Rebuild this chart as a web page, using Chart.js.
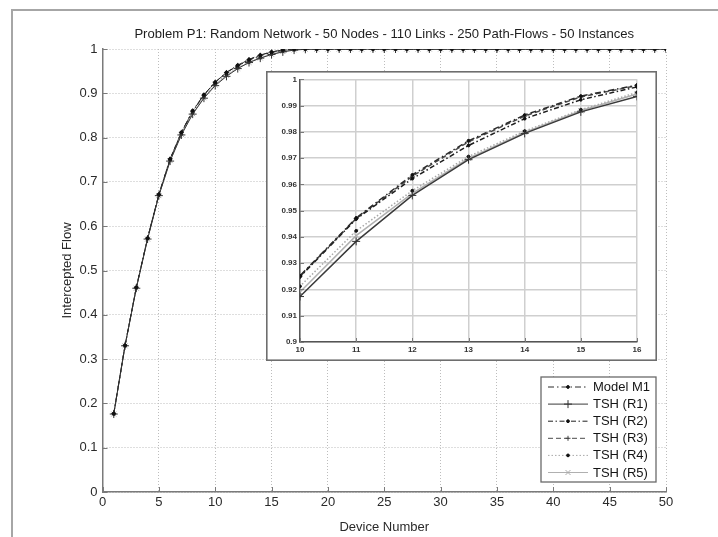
<!DOCTYPE html>
<html>
<head>
<meta charset="utf-8">
<script src="https://cdn.jsdelivr.net/npm/chart.js@4.4.1/dist/chart.umd.min.js"></script>
<style>
  html, body { margin: 0; padding: 0; background: #fff; }
  #wrap { position: relative; width: 718px; height: 537px; overflow: hidden; }
  #main { position: absolute; left: 0; top: 0; }
  #zoom { position: absolute; left: 266px; top: 71px; }
</style>
</head>
<body>
<div id="wrap">
  <canvas id="main" width="718" height="537"></canvas>
  <canvas id="zoom" width="391" height="290"></canvas>
</div>
<script>
// Device counts on the x axis
const deviceNumbers = [1,2,3,4,5,6,7,8,9,10,11,12,13,14,15,16,17,18,19,20,21,22,23,24,25,26,27,28,29,30,31,32,33,34,35,36,37,38,39,40,41,42,43,44,45,46,47,48,49,50];

// Intercepted flow (fraction), averaged over 50 instances
const modelM1 = [0.177,0.331,0.462,0.573,0.672,0.752,0.812,0.861,0.897,0.9252,0.9472,0.9636,0.9766,0.9864,0.9936,0.9978,0.9995,
  1,1,1,1,1,1,1,1,1,1,1,1,1,1,1,1,1,1,1,1,1,1,1,1,1,1,1,1,1,1,1,1,1,1];
const tshR1 = [0.176,0.330,0.460,0.571,0.669,0.747,0.806,0.853,0.889,0.9173,0.9383,0.9558,0.9694,0.9794,0.9876,0.9935,0.9975,0.9993,
  1,1,1,1,1,1,1,1,1,1,1,1,1,1,1,1,1,1,1,1,1,1,1,1,1,1,1,1,1,1,1,1];
const tshR2 = [0.177,0.331,0.461,0.573,0.671,0.751,0.811,0.859,0.896,0.9248,0.9468,0.9622,0.9748,0.9850,0.9922,0.9971,0.9993,
  1,1,1,1,1,1,1,1,1,1,1,1,1,1,1,1,1,1,1,1,1,1,1,1,1,1,1,1,1,1,1,1,1,1];
const tshR3 = [0.177,0.331,0.462,0.573,0.672,0.752,0.812,0.860,0.896,0.9250,0.9470,0.9631,0.9762,0.9860,0.9933,0.9976,0.9994,
  1,1,1,1,1,1,1,1,1,1,1,1,1,1,1,1,1,1,1,1,1,1,1,1,1,1,1,1,1,1,1,1,1,1];
const tshR4 = [0.176,0.330,0.461,0.572,0.670,0.749,0.808,0.856,0.892,0.9212,0.9423,0.9576,0.9706,0.9803,0.9884,0.9950,0.9985,
  1,1,1,1,1,1,1,1,1,1,1,1,1,1,1,1,1,1,1,1,1,1,1,1,1,1,1,1,1,1,1,1,1,1];
const tshR5 = [0.176,0.330,0.460,0.571,0.669,0.748,0.807,0.854,0.890,0.9190,0.9405,0.9566,0.9699,0.9798,0.9880,0.9944,0.9980,0.9997,
  1,1,1,1,1,1,1,1,1,1,1,1,1,1,1,1,1,1,1,1,1,1,1,1,1,1,1,1,1,1,1,1];

const seriesNames = ['Model M1', 'TSH (R1)', 'TSH (R2)', 'TSH (R3)', 'TSH (R4)', 'TSH (R5)'];

// Tick values and labels
const mainXTicks = [0,5,10,15,20,25,30,35,40,45,50];
const mainYTicks = [0,0.1,0.2,0.3,0.4,0.5,0.6,0.7,0.8,0.9,1];
const mainYLabels = ['0','0.1','0.2','0.3','0.4','0.5','0.6','0.7','0.8','0.9','1'];
const zoomXTicks = [10,11,12,13,14,15,16];
const zoomYTicks = [0.9,0.91,0.92,0.93,0.94,0.95,0.96,0.97,0.98,0.99,1];
const zoomYLabels = ['0.9','0.91','0.92','0.93','0.94','0.95','0.96','0.97','0.98','0.99','1'];

const FONT = "'Liberation Sans', Arial, Helvetica, sans-serif";
const AXIS_COLOR = '#7a7a7a';
const TEXT_COLOR = '#2a2a2a';

// Line and marker style of each series
const styles = [
  { color: '#2b2b2b', dash: [6, 3, 1.5, 3], point: 'circle', r: 1.4, pColor: '#111' },
  { color: '#3a3a3a', dash: [],            point: 'cross',  r: 4,   pColor: '#333' },
  { color: '#1f1f1f', dash: [5, 2.5, 1.5, 2.5], point: 'circle', r: 1.4, pColor: '#111' },
  { color: '#4a4a4a', dash: [5, 3],        point: 'cross',  r: 2.5, pColor: '#444' },
  { color: '#a8a8a8', dash: [1.5, 2],      point: 'circle', r: 1.4, pColor: '#111' },
  { color: '#b0b0b0', dash: [],            point: 'crossRot', r: 3.5, pColor: '#aaa' }
];
const seriesValues = [modelM1, tshR1, tshR2, tshR3, tshR4, tshR5];

function buildDatasets(width) {
  return seriesValues.map((vals, i) => ({
    label: seriesNames[i],
    data: deviceNumbers.map((x, k) => ({ x: x, y: vals[k] })),
    borderColor: styles[i].color,
    borderWidth: width,
    borderDash: styles[i].dash,
    pointStyle: styles[i].point,
    pointRadius: styles[i].r,
    pointBorderColor: styles[i].pColor,
    pointBackgroundColor: styles[i].pColor,
    pointBorderWidth: 1,
    fill: false,
    tension: 0
  }));
}

// Small inward tick marks on the axis lines
const inwardTicks = {
  id: 'inwardTicks',
  afterDatasetsDraw(chart, args, opts) {
    const { ctx, chartArea } = chart;
    const len = opts.length || 5;
    ctx.save();
    ctx.strokeStyle = AXIS_COLOR;
    ctx.lineWidth = 1;
    ctx.setLineDash([]);
    const xs = chart.scales.x, ys = chart.scales.y;
    xs.ticks.forEach(t => {
      const px = Math.round(xs.getPixelForValue(t.value)) + 0.5;
      ctx.beginPath();
      ctx.moveTo(px, chartArea.bottom);
      ctx.lineTo(px, chartArea.bottom - len);
      ctx.stroke();
    });
    ys.ticks.forEach(t => {
      const py = Math.round(ys.getPixelForValue(t.value)) + 0.5;
      ctx.beginPath();
      ctx.moveTo(chartArea.left, py);
      ctx.lineTo(chartArea.left + len, py);
      ctx.stroke();
    });
    ctx.restore();
  }
};

// Figure frame behind the main axes
const figureFrame = {
  id: 'figureFrame',
  beforeDraw(chart) {
    const { ctx, width, height } = chart;
    ctx.save();
    ctx.fillStyle = '#fff';
    ctx.fillRect(0, 0, width, height);
    ctx.strokeStyle = '#a6a6a6';
    ctx.lineWidth = 2;
    ctx.beginPath();
    ctx.moveTo(12, height + 2);
    ctx.lineTo(12, 10);
    ctx.lineTo(width + 2, 10);
    ctx.stroke();
    ctx.restore();
  }
};

// Figure title
const figTitle = {
  id: 'figTitle',
  afterDraw(chart) {
    const { ctx, chartArea } = chart;
    ctx.save();
    ctx.font = '13.1px ' + FONT;
    ctx.fillStyle = '#1e1e1e';
    ctx.textAlign = 'center';
    ctx.textBaseline = 'middle';
    ctx.fillText('Problem P1: Random Network - 50 Nodes - 110 Links - 250 Path-Flows - 50 Instances',
                 (chartArea.left + chartArea.right) / 2, 34);
    ctx.restore();
  }
};

// Boxed legend in the lower right corner of the plot
const boxLegend = {
  id: 'boxLegend',
  afterDraw(chart) {
    const { ctx, chartArea } = chart;
    const w = 115, rowH = 17.1;
    const h = 105;
    const x0 = chartArea.right - 10 - w;
    const y0 = chartArea.bottom - 10 - h;
    ctx.save();
    ctx.fillStyle = '#fff';
    ctx.fillRect(x0, y0, w, h);
    ctx.strokeStyle = '#6a6a6a';
    ctx.lineWidth = 1.3;
    ctx.strokeRect(x0, y0, w, h);
    chart.data.datasets.forEach((ds, i) => {
      const y = y0 + 10 + i * rowH;
      ctx.save();
      ctx.strokeStyle = ds.borderColor;
      ctx.lineWidth = 1;
      ctx.setLineDash(ds.borderDash);
      ctx.beginPath();
      ctx.moveTo(x0 + 7, y);
      ctx.lineTo(x0 + 47, y);
      ctx.stroke();
      ctx.setLineDash([]);
      ctx.fillStyle = ds.pointBackgroundColor;
      ctx.strokeStyle = ds.pointBorderColor;
      Chart.helpers.drawPoint(ctx, { pointStyle: ds.pointStyle, radius: ds.pointRadius, rotation: 0, borderWidth: 1 }, x0 + 27, y);
      ctx.restore();
      ctx.fillStyle = '#151515';
      ctx.font = '13px ' + FONT;
      ctx.textAlign = 'left';
      ctx.textBaseline = 'middle';
      ctx.fillText(ds.label, x0 + 52, y + 0.5);
    });
    ctx.restore();
  }
};

Chart.defaults.font.family = FONT;
Chart.defaults.color = TEXT_COLOR;

new Chart(document.getElementById('main'), {
  type: 'line',
  data: { datasets: buildDatasets(1) },
  plugins: [figureFrame, inwardTicks, boxLegend, figTitle],
  options: {
    responsive: false,
    animation: false,
    events: [],
    layout: { padding: { top: 49, right: 52, bottom: 0, left: 0 } },
    plugins: {
      legend: { display: false },
      tooltip: { enabled: false },
      title: { display: false },
      inwardTicks: { length: 5 }
    },
    scales: {
      x: {
        type: 'linear', min: 0, max: 50,
        afterBuildTicks: s => { s.ticks = mainXTicks.map(v => ({ value: v })); },
        afterFit: s => { s.height = 45; },
        ticks: { font: { size: 13 }, color: TEXT_COLOR, padding: 3, maxRotation: 0, autoSkip: false },
        grid: { color: '#bdbdbd', lineWidth: 1, drawTicks: false },
        border: { color: AXIS_COLOR, width: 1.5, dash: [1, 2] },
        title: { display: true, text: 'Device Number', font: { size: 13 }, color: TEXT_COLOR, padding: { top: 0, bottom: 2 } }
      },
      y: {
        type: 'linear', min: 0, max: 1,
        afterBuildTicks: s => { s.ticks = mainYTicks.map(v => ({ value: v })); },
        afterFit: s => { s.width = 102.5; },
        ticks: { font: { size: 13 }, color: TEXT_COLOR, padding: 5, autoSkip: false,
                 callback: (v, i) => mainYLabels[i] },
        grid: { color: '#bdbdbd', lineWidth: 1, drawTicks: false },
        border: { color: AXIS_COLOR, width: 1.5, dash: [1, 2] },
        title: { display: true, text: 'Intercepted Flow', font: { size: 13 }, color: TEXT_COLOR, padding: { top: 60, bottom: 0 } }
      }
    }
  }
});

// Inset border and background
const insetFrame = {
  id: 'insetFrame',
  beforeDraw(chart) {
    const { ctx, width, height } = chart;
    ctx.save();
    ctx.fillStyle = '#fff';
    ctx.fillRect(0, 0, width, height);
    ctx.strokeStyle = '#6e6e6e';
    ctx.lineWidth = 1.6;
    ctx.strokeRect(0.8, 0.8, width - 1.6, height - 1.6);
    ctx.restore();
  }
};

new Chart(document.getElementById('zoom'), {
  type: 'line',
  data: { datasets: buildDatasets(1.5) },
  plugins: [insetFrame, inwardTicks],
  options: {
    responsive: false,
    animation: false,
    events: [],
    layout: { padding: { top: 8.3, right: 20, bottom: 0, left: 0 } },
    plugins: { legend: { display: false }, tooltip: { enabled: false }, inwardTicks: { length: 4 } },
    scales: {
      x: {
        type: 'linear', min: 10, max: 16,
        afterBuildTicks: s => { s.ticks = zoomXTicks.map(v => ({ value: v })); },
        afterFit: s => { s.height = 19; },
        ticks: { font: { size: 8, weight: 'bold' }, color: '#333', padding: 3, maxRotation: 0, autoSkip: false },
        grid: { color: '#cfcfcf', lineWidth: 1.5, drawTicks: false },
        border: { color: '#555', width: 1.5 }
      },
      y: {
        type: 'linear', min: 0.9, max: 1,
        afterBuildTicks: s => { s.ticks = zoomYTicks.map(v => ({ value: v })); },
        afterFit: s => { s.width = 34; },
        ticks: { font: { size: 8, weight: 'bold' }, color: '#333', padding: 3, autoSkip: false,
                 callback: (v, i) => zoomYLabels[i] },
        grid: { color: '#cfcfcf', lineWidth: 1.5, drawTicks: false },
        border: { color: '#555', width: 1.5 }
      }
    }
  }
});
</script>
</body>
</html>
